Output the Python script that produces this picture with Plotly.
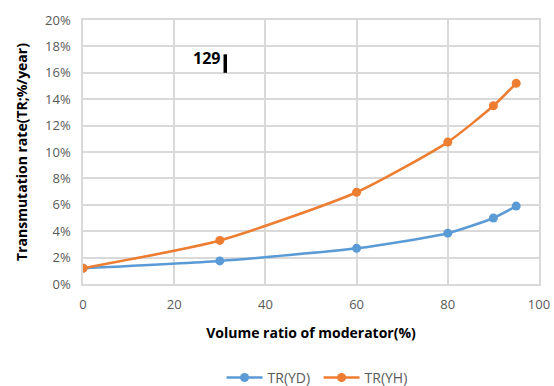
import plotly.graph_objects as go

x_vals = [0, 30, 60, 80, 90, 95]
tr_yd = [1.2, 1.75, 2.7, 3.85, 5.0, 5.9]
tr_yh = [1.2, 3.3, 6.95, 10.75, 13.5, 15.2]
y_ticks = [0, 2, 4, 6, 8, 10, 12, 14, 16, 18, 20]
y_tick_text = [f"{v}%" for v in y_ticks]
x_ticks = [0, 20, 40, 60, 80, 100]

FONT = "Open Sans"
fig = go.Figure()
fig.add_trace(go.Scatter(x=x_vals, y=tr_yd, name="TR(YD)", mode="lines+markers",
                         line=dict(color="#5B9BD5", width=2.5, shape="spline", smoothing=0.6),
                         marker=dict(size=9, color="#5B9BD5")))
fig.add_trace(go.Scatter(x=x_vals, y=tr_yh, name="TR(YH)", mode="lines+markers",
                         line=dict(color="#ED7D31", width=2.5, shape="spline", smoothing=0.6),
                         marker=dict(size=9, color="#ED7D31")))

fig.update_layout(
    width=554, height=386,
    margin=dict(l=83, r=15, t=20, b=102, autoexpand=False),
    paper_bgcolor="white", plot_bgcolor="white",
    font=dict(family=FONT, size=13, color="#595959"),
    showlegend=True,
    legend=dict(orientation="h", x=0.575, xanchor="center", xref="container",
                y=0.021, yanchor="middle", yref="container",
                font=dict(size=14, color="#595959"), itemwidth=36,
                entrywidth=46, entrywidthmode="pixels"),
    xaxis=dict(range=[0, 100], tickvals=x_ticks, showgrid=True, gridcolor="#D9D9D9",
               gridwidth=1.5, zeroline=False, showline=True, linecolor="#D9D9D9", linewidth=1.5,
               mirror=True, ticks="", tickfont=dict(size=13), ticklabelstandoff=8,
               title=dict(text="<b>Volume ratio of moderator(%)</b>",
               font=dict(size=14, color="black"), standoff=16)),
    yaxis=dict(range=[0, 20], tickvals=y_ticks, ticktext=y_tick_text, showgrid=True,
               gridcolor="#D9D9D9", gridwidth=1.5, zeroline=False, showline=True,
               linecolor="#D9D9D9", linewidth=1.5, mirror=True, ticks="", tickfont=dict(size=13),
               ticklabelstandoff=8,
               title=dict(text="<b>Transmutation rate(TR;%/year)</b>",
                          font=dict(size=14, color="black"), standoff=14)),
)
fig.add_annotation(x=27, y=17.1, xref="x", yref="y", text="<b>129</b>", showarrow=False,
                   font=dict(size=16, color="black"), xanchor="center", yanchor="middle")
fig.add_shape(type="line", x0=31.2, x1=31.2, y0=16.0, y1=17.4, xref="x", yref="y",
              line=dict(color="black", width=3.5))
fig.write_html("out.html")
